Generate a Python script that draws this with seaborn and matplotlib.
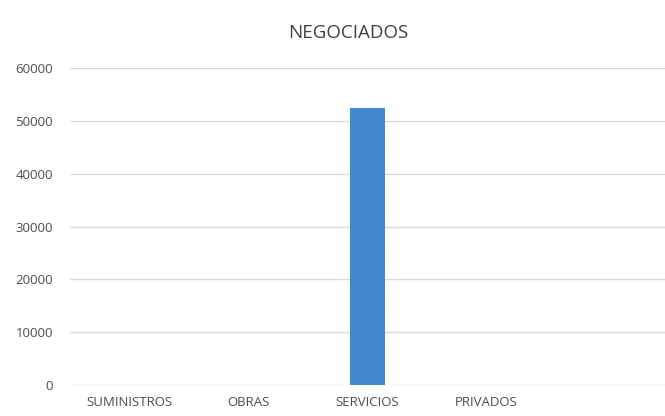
import matplotlib
matplotlib.use('Agg')
import matplotlib.pyplot as plt
import seaborn as sns
import pandas as pd

# datos del gráfico
categorias = ['SUMINISTROS', 'OBRAS', 'SERVICIOS', 'PRIVADOS', ' ']
valores = [0, 0, 52500, 0, 0]
ticks_y = [0, 10000, 20000, 30000, 40000, 50000, 60000]

df = pd.DataFrame({'Categoria': categorias, 'Valor': valores})

sns.set_theme(style='white')
plt.rcParams['font.family'] = ['Open Sans', 'DejaVu Sans']

fig = plt.figure(figsize=(6.65, 4.16), dpi=100)
ax = fig.add_axes([0.105, 0.075, 0.895, 0.761])

sns.barplot(data=df, x='Categoria', y='Valor', order=categorias,
            color='#4389d1', saturation=1, width=0.3, ax=ax, zorder=3,
            linewidth=0)

ax.set_ylim(0, 60000)
ax.set_yticks(ticks_y)
ax.set_xlim(-0.5, len(categorias) - 0.5)
ax.grid(True, axis='y', color='#d9d9d9', linewidth=1, zorder=0)
ax.grid(False, axis='x')
for s in ax.spines.values():
    s.set_visible(False)

ax.set_xlabel('')
ax.set_ylabel('')
ax.tick_params(axis='y', length=0, pad=12, labelsize=9.5, labelcolor='#4d4d4d')
ax.tick_params(axis='x', length=0, pad=8, labelsize=9.5, labelcolor='#4d4d4d')

fig.text(0.523, 0.92, 'NEGOCIADOS', ha='center', va='center',
         fontsize=13.5, color='#404040')

fig.savefig('out.png', dpi=100)
plt.close()
